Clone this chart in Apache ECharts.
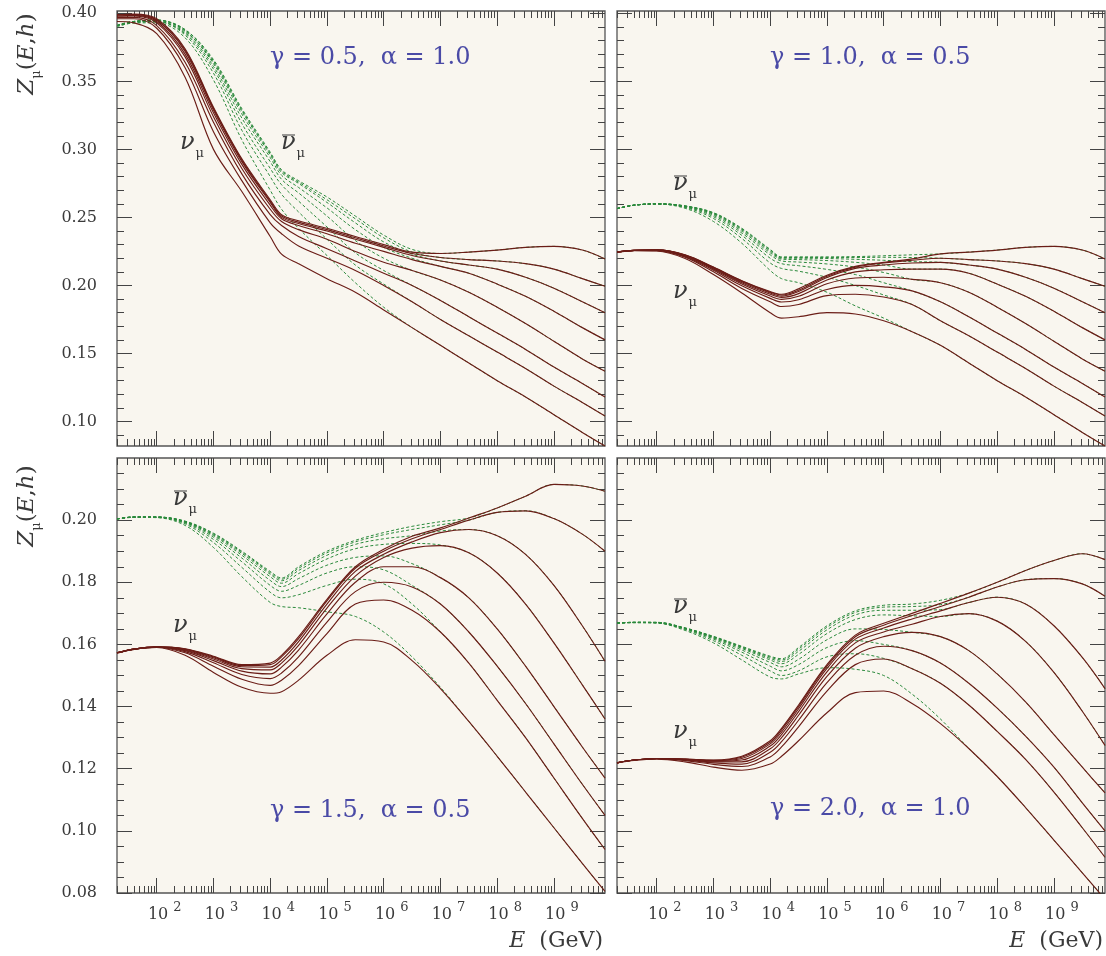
<!DOCTYPE html>
<html><head><meta charset="utf-8">
<script src="https://cdn.jsdelivr.net/npm/echarts@6/dist/echarts.min.js"></script>
<style>html,body{margin:0;padding:0;background:#fff}#c{width:1106px;height:956px}</style>
</head><body><div id="c"></div>
<script>
// x = log10(E / GeV)
const logE = [1.3,1.6,2,2.5,3,3.5,4,4.2,4.5,5,5.5,6,6.5,7,7.5,8,8.5,9,9.5,9.9];
const xTickExp = [2,3,4,5,6,7,8,9];
const yTicksTop = [0.10,0.15,0.20,0.25,0.30,0.35,0.40];
const yTicksBottom = [0.08,0.10,0.12,0.14,0.16,0.18,0.20];

// Panel A: gamma=0.5, alpha=1.0  (nu_mu solid, nubar_mu dashed; nubar merges into nu beyond given points)
const nuA = [
 [0.399,0.3995,0.396,0.374,0.331,0.293,0.263,0.252,0.2475,0.242,0.236,0.230,0.2245,0.2235,0.2245,0.226,0.228,0.2287,0.226,0.2195],
 [0.399,0.399,0.395,0.373,0.330,0.292,0.262,0.251,0.2465,0.241,0.235,0.229,0.2235,0.2205,0.219,0.218,0.216,0.212,0.205,0.1994],
 [0.399,0.399,0.395,0.372,0.329,0.291,0.261,0.250,0.2455,0.240,0.234,0.228,0.222,0.218,0.215,0.212,0.206,0.198,0.188,0.180],
 [0.398,0.3985,0.394,0.370,0.327,0.289,0.259,0.249,0.244,0.238,0.231,0.225,0.219,0.214,0.209,0.201,0.192,0.181,0.169,0.160],
 [0.398,0.398,0.393,0.368,0.324,0.286,0.256,0.247,0.241,0.234,0.225,0.217,0.211,0.204,0.195,0.184,0.172,0.159,0.146,0.137],
 [0.397,0.397,0.391,0.364,0.320,0.282,0.252,0.244,0.236,0.227,0.218,0.209,0.200,0.189,0.177,0.165,0.153,0.140,0.128,0.118],
 [0.396,0.396,0.389,0.360,0.313,0.277,0.246,0.238,0.229,0.220,0.211,0.200,0.188,0.175,0.163,0.151,0.139,0.126,0.114,0.104],
 [0.394,0.393,0.385,0.353,0.300,0.269,0.236,0.223,0.216,0.205,0.195,0.182,0.169,0.156,0.143,0.130,0.118,0.105,0.092,0.082]
];
const nubarA = [
 [0.391,0.394,0.395,0.388,0.366,0.330,0.298,0.285,0.277,0.265,0.251,0.237,0.2265],
 [0.391,0.394,0.395,0.388,0.365,0.329,0.297,0.284,0.276,0.263,0.249,0.235,0.2245],
 [0.391,0.394,0.395,0.387,0.364,0.328,0.296,0.283,0.275,0.261,0.246,0.232,0.223],
 [0.391,0.394,0.395,0.387,0.363,0.326,0.294,0.281,0.272,0.257,0.241,0.228,0.220],
 [0.391,0.394,0.394,0.386,0.361,0.323,0.291,0.278,0.268,0.251,0.233,0.220,0.211],
 [0.391,0.394,0.394,0.385,0.359,0.319,0.286,0.274,0.262,0.243,0.224,0.211,0.200],
 [0.391,0.393,0.394,0.384,0.356,0.314,0.280,0.267,0.254,0.234,0.215,0.201,0.188],
 [0.390,0.393,0.393,0.382,0.351,0.307,0.270,0.256,0.242,0.222,0.202,0.184,0.169]
];

// Panel B: gamma=1.0, alpha=0.5
const nuB = [
 [0.2247,0.2258,0.2262,0.2225,0.2135,0.2035,0.1955,0.1935,0.1975,0.2075,0.2140,0.2170,0.2195,0.2232,0.2245,0.226,0.228,0.2287,0.226,0.2195],
 [0.2247,0.2258,0.2262,0.2224,0.2133,0.2032,0.1950,0.1930,0.1965,0.2068,0.2135,0.2165,0.2185,0.2200,0.219,0.218,0.216,0.212,0.205,0.1994],
 [0.2246,0.2258,0.2261,0.2222,0.2130,0.2027,0.1944,0.1922,0.1955,0.2058,0.2125,0.2150,0.2165,0.2170,0.215,0.212,0.206,0.198,0.188,0.180],
 [0.2246,0.2258,0.2260,0.2220,0.2126,0.2020,0.1935,0.1912,0.1940,0.2040,0.2100,0.2115,0.2120,0.2120,0.209,0.201,0.192,0.181,0.169,0.160],
 [0.2245,0.2258,0.2259,0.2217,0.2120,0.2010,0.1922,0.1898,0.1920,0.2012,0.2055,0.2060,0.2045,0.2020,0.195,0.184,0.172,0.159,0.146,0.137],
 [0.2245,0.2257,0.2258,0.2213,0.2112,0.1997,0.1905,0.1878,0.1895,0.1970,0.2000,0.1990,0.1960,0.1880,0.177,0.165,0.153,0.140,0.128,0.118],
 [0.2244,0.2257,0.2256,0.2208,0.2100,0.1978,0.1880,0.1845,0.1860,0.1925,0.1935,0.1915,0.1860,0.1740,0.163,0.151,0.139,0.126,0.114,0.104],
 [0.2243,0.2256,0.2253,0.2198,0.2080,0.1945,0.1800,0.1760,0.1770,0.1800,0.1790,0.1740,0.1660,0.1560,0.143,0.130,0.118,0.105,0.092,0.082]
];
const nubarB = [
 [0.2565,0.2590,0.2600,0.2585,0.2535,0.2420,0.2265,0.2210,0.2210,0.2210,0.2212,0.2218,0.2225],
 [0.2565,0.2590,0.2600,0.2584,0.2532,0.2415,0.2260,0.2205,0.2205,0.2205,0.2205,0.2207,0.2205],
 [0.2565,0.2590,0.2600,0.2583,0.2528,0.2408,0.2252,0.2200,0.2200,0.2198,0.2192,0.2185,0.2175],
 [0.2565,0.2590,0.2600,0.2582,0.2523,0.2398,0.2240,0.2193,0.2190,0.2183,0.2170,0.2150,0.2120],
 [0.2565,0.2590,0.2599,0.2580,0.2515,0.2385,0.2225,0.2180,0.2172,0.2158,0.2135,0.2095,0.2045],
 [0.2565,0.2590,0.2599,0.2577,0.2505,0.2368,0.2200,0.2160,0.2145,0.2118,0.2080,0.2020,0.1960],
 [0.2565,0.2589,0.2599,0.2573,0.2492,0.2345,0.2165,0.2125,0.2105,0.2060,0.2000,0.1930,0.1860],
 [0.2564,0.2589,0.2598,0.2567,0.2470,0.2310,0.2110,0.2050,0.2020,0.1950,0.1850,0.1760,0.1660]
];

// Panel C: gamma=1.5, alpha=0.5
const nuC = [
 [0.1573,0.1585,0.1592,0.1586,0.1562,0.1535,0.1540,0.1565,0.1625,0.1745,0.1850,0.1906,0.1948,0.1975,0.2007,0.2039,0.2077,0.2115,0.2110,0.2093],
 [0.1573,0.1585,0.1592,0.1585,0.1560,0.1532,0.1535,0.1560,0.1619,0.1740,0.1845,0.1900,0.1940,0.1970,0.2000,0.2025,0.2030,0.2005,0.1955,0.1900],
 [0.1573,0.1585,0.1592,0.1584,0.1557,0.1528,0.1527,0.1550,0.1609,0.1730,0.1835,0.1890,0.1930,0.1960,0.1970,0.1950,0.1890,0.1790,0.1660,0.1546],
 [0.1573,0.1585,0.1592,0.1582,0.1553,0.1522,0.1518,0.1540,0.1597,0.1717,0.1820,0.1880,0.1910,0.1918,0.1895,0.1830,0.1730,0.1605,0.1470,0.1360],
 [0.1573,0.1585,0.1591,0.1580,0.1548,0.1514,0.1505,0.1527,0.1582,0.1698,0.1800,0.1850,0.1850,0.1815,0.1750,0.1650,0.1530,0.1400,0.1270,0.1170],
 [0.1573,0.1585,0.1591,0.1577,0.1541,0.1503,0.1490,0.1508,0.1560,0.1672,0.1770,0.1800,0.1785,0.1730,0.1640,0.1530,0.1410,0.1280,0.1150,0.1050],
 [0.1573,0.1584,0.1591,0.1573,0.1530,0.1488,0.1468,0.1485,0.1532,0.1635,0.1730,0.1743,0.1710,0.1640,0.1540,0.1420,0.1300,0.1170,0.1040,0.0940],
 [0.1572,0.1584,0.1590,0.1565,0.1510,0.1462,0.1443,0.1448,0.1485,0.1565,0.1615,0.1608,0.1548,0.1458,0.1352,0.1240,0.1125,0.1010,0.0895,0.0805]
];
const nubarC = [
 [0.2004,0.2010,0.2010,0.1997,0.1958,0.1900,0.1835,0.1814,0.1850,0.1900,0.1935,0.1960,0.1980,0.1995],
 [0.2004,0.2010,0.2010,0.1996,0.1956,0.1897,0.1831,0.1810,0.1845,0.1895,0.1930,0.1953,0.1970,0.1985],
 [0.2004,0.2010,0.2010,0.1995,0.1953,0.1893,0.1826,0.1805,0.1838,0.1887,0.1922,0.1940,0.1950,0.1965],
 [0.2004,0.2010,0.2010,0.1994,0.1950,0.1887,0.1818,0.1797,0.1828,0.1875,0.1908,0.1922,0.1925,0.1920],
 [0.2004,0.2010,0.2010,0.1993,0.1945,0.1878,0.1806,0.1786,0.1812,0.1855,0.1880,0.1885,0.1860],
 [0.2004,0.2010,0.2009,0.1991,0.1938,0.1866,0.1790,0.1771,0.1790,0.1830,0.1850,0.1840,0.1790],
 [0.2004,0.2010,0.2009,0.1988,0.1928,0.1848,0.1768,0.1750,0.1760,0.1790,0.1810,0.1795,0.1730],
 [0.2003,0.2009,0.2008,0.1983,0.1912,0.1818,0.1735,0.1722,0.1718,0.1705,0.1690,0.1640,0.1560,0.1462]
];

// Panel D: gamma=2.0, alpha=1.0
const nuD = [
 [0.1219,0.1228,0.1233,0.1231,0.1228,0.1240,0.1290,0.1330,0.1405,0.1535,0.1630,0.1668,0.1700,0.1732,0.1765,0.1800,0.1838,0.1870,0.1892,0.1873],
 [0.1219,0.1228,0.1233,0.1231,0.1227,0.1237,0.1285,0.1325,0.1400,0.1530,0.1625,0.1662,0.1693,0.1722,0.1752,0.1785,0.1808,0.1812,0.1795,0.1755],
 [0.1219,0.1228,0.1233,0.1230,0.1226,0.1233,0.1280,0.1318,0.1393,0.1523,0.1617,0.1653,0.1682,0.1708,0.1735,0.1752,0.1730,0.1660,0.1558,0.1458],
 [0.1219,0.1228,0.1233,0.1230,0.1224,0.1228,0.1273,0.1310,0.1384,0.1512,0.1605,0.1640,0.1665,0.1690,0.1699,0.1675,0.1610,0.1510,0.1385,0.1275],
 [0.1219,0.1228,0.1233,0.1229,0.1222,0.1222,0.1264,0.1300,0.1372,0.1497,0.1588,0.1625,0.1639,0.1625,0.1580,0.1505,0.1415,0.1310,0.1205,0.1122],
 [0.1219,0.1228,0.1233,0.1228,0.1219,0.1215,0.1253,0.1287,0.1356,0.1477,0.1565,0.1594,0.1580,0.1540,0.1475,0.1395,0.1305,0.1205,0.1090,0.1000],
 [0.1219,0.1228,0.1232,0.1226,0.1214,0.1207,0.1238,0.1270,0.1335,0.1450,0.1535,0.1553,0.1522,0.1475,0.1405,0.1320,0.1230,0.1125,0.1010,0.0915],
 [0.1219,0.1227,0.1231,0.1222,0.1205,0.1195,0.1215,0.1240,0.1290,0.1380,0.1445,0.1450,0.1410,0.1345,0.1265,0.1175,0.1075,0.0970,0.0865,0.0780]
];
const nubarD = [
 [0.1669,0.1671,0.1671,0.1653,0.1626,0.1594,0.1562,0.1554,0.1590,0.1660,0.1708,0.1726,0.1730,0.1742],
 [0.1669,0.1671,0.1671,0.1653,0.1625,0.1592,0.1559,0.1550,0.1585,0.1655,0.1703,0.1720,0.1722,0.1728],
 [0.1669,0.1671,0.1671,0.1652,0.1624,0.1590,0.1555,0.1545,0.1578,0.1647,0.1695,0.1710,0.1710,0.1712],
 [0.1669,0.1671,0.1670,0.1652,0.1622,0.1587,0.1550,0.1538,0.1568,0.1635,0.1680,0.1695,0.1692,0.1690],
 [0.1669,0.1671,0.1670,0.1651,0.1620,0.1582,0.1542,0.1528,0.1552,0.1615,0.1650,0.1648,0.1639],
 [0.1669,0.1671,0.1670,0.1650,0.1617,0.1575,0.1530,0.1515,0.1535,0.1590,0.1612,0.1600,0.1580],
 [0.1669,0.1670,0.1669,0.1648,0.1612,0.1565,0.1515,0.1500,0.1515,0.1560,0.1570,0.1555,0.1522],
 [0.1668,0.1670,0.1669,0.1645,0.1605,0.1550,0.1495,0.1489,0.1505,0.1525,0.1520,0.1500,0.1440,0.1360]
];

const panelLabels = ['γ = 0.5,  α = 1.0','γ = 1.0,  α = 0.5','γ = 1.5,  α = 0.5','γ = 2.0,  α = 1.0'];

// ---------- layout / style ----------
const X_MIN = 1.3, X_MAX = 9.9;
const SERIF = '"DejaVu Serif", "Liberation Serif", serif';
const TXT = '#3a3a3a';
const RED = '#6b1d17', GREEN = '#2b8a3c', BLUE = '#4a4aa6';
const grids = [
  {left:117, top:11, width:488, height:435},
  {left:617, top:11, width:488, height:435},
  {left:117, top:458, width:488, height:435},
  {left:617, top:458, width:488, height:435}
];
const yRanges = [[0.082,0.4017],[0.082,0.4017],[0.08,0.22],[0.08,0.22]];

const xMinorTicks = [];
for (let n = 1; n <= 9; n++) for (let k = 2; k <= 9; k++) {
  const v = n + Math.log10(k);
  if (v > X_MIN && v < X_MAX) xMinorTicks.push(v);
}
function yMinor(lo, hi, step, majors) {
  const out = [];
  for (let v = lo; v <= hi + 1e-9; v += step) {
    const r = Math.round(v * 1000) / 1000;
    if (!majors.some(m => Math.abs(m - r) < 1e-6)) out.push(r);
  }
  return out;
}
const yMinorTop = yMinor(0.09, 0.39, 0.01, yTicksTop);
const yMinorBottom = yMinor(0.085, 0.215, 0.005, yTicksBottom);

const tickLine = {color:'#444', width:1};
const xAxis = [], yAxis = [], series = [];
const axisIdx = [];
grids.forEach((g, gi) => {
  const bottomRow = gi >= 2, leftCol = gi % 2 === 0;
  const xb = {type:'value', gridIndex:gi, min:X_MIN, max:X_MAX, splitLine:{show:false},
              axisLine:{show:false, onZero:false}};
  const xi = xAxis.length;
  xAxis.push(Object.assign({}, xb, {position:'bottom',
    axisTick:{show:true, inside:true, length:15, customValues:xTickExp, lineStyle:tickLine},
    axisLabel:{show:bottomRow, customValues:xTickExp, margin:12, padding:[0,0,0,16],
      formatter: v => '{b|10}{s|' + Math.round(v) + '}',
      rich:{b:{fontFamily:SERIF, fontSize:16, color:TXT, lineHeight:18, verticalAlign:'bottom'},
            s:{fontFamily:SERIF, fontSize:13, color:TXT, lineHeight:13, verticalAlign:'bottom', padding:[0,0,9,5]}}}}));
  xAxis.push(Object.assign({}, xb, {position:'bottom',
    axisTick:{show:true, inside:true, length:7, customValues:xMinorTicks, lineStyle:tickLine}, axisLabel:{show:false}}));
  xAxis.push(Object.assign({}, xb, {position:'top',
    axisTick:{show:true, inside:true, length:15, customValues:xTickExp, lineStyle:tickLine}, axisLabel:{show:false}}));
  xAxis.push(Object.assign({}, xb, {position:'top',
    axisTick:{show:true, inside:true, length:7, customValues:xMinorTicks, lineStyle:tickLine}, axisLabel:{show:false}}));

  const majors = bottomRow ? yTicksBottom : yTicksTop;
  const minors = bottomRow ? yMinorBottom : yMinorTop;
  const yb = {type:'value', gridIndex:gi, min:yRanges[gi][0], max:yRanges[gi][1], splitLine:{show:false},
              axisLine:{show:false, onZero:false}};
  const yi = yAxis.length;
  yAxis.push(Object.assign({}, yb, {position:'left',
    axisTick:{show:true, inside:true, length:15, customValues:majors, lineStyle:tickLine},
    axisLabel:{show:leftCol, customValues:majors, margin:20, formatter: v => v.toFixed(2),
      fontFamily:SERIF, fontSize:16, color:TXT}}));
  yAxis.push(Object.assign({}, yb, {position:'left',
    axisTick:{show:true, inside:true, length:7, customValues:minors, lineStyle:tickLine}, axisLabel:{show:false}}));
  yAxis.push(Object.assign({}, yb, {position:'right',
    axisTick:{show:true, inside:true, length:15, customValues:majors, lineStyle:tickLine}, axisLabel:{show:false}}));
  yAxis.push(Object.assign({}, yb, {position:'right',
    axisTick:{show:true, inside:true, length:7, customValues:minors, lineStyle:tickLine}, axisLabel:{show:false}}));
  axisIdx.push([xi, yi]);
});

const panelData = [[nuA, nubarA],[nuB, nubarB],[nuC, nubarC],[nuD, nubarD]];
panelData.forEach(([nu, nubar], gi) => {
  const [xi, yi] = axisIdx[gi];
  nubar.forEach((row, k) => {
    const full = row.concat(nu[k].slice(row.length));
    series.push({type:'line', xAxisIndex:xi, yAxisIndex:yi, symbol:'none', smooth:0.35,
      data: logE.map((x, i) => [x, full[i]]), z:2, silent:true,
      lineStyle:{color:GREEN, width:1, type:[3,2.2]}});
  });
  nu.forEach(row => {
    series.push({type:'line', xAxisIndex:xi, yAxisIndex:yi, symbol:'none', smooth:0.35,
      data: logE.map((x, i) => [x, row[i]]), z:3, silent:true,
      lineStyle:{color:RED, width:1.15}});
  });
});

// ---------- annotations ----------
const graphic = [];
const labelPos = [[270,58],[770,58],[270,811],[770,809]];
panelLabels.forEach((t, i) => graphic.push({type:'text', x:labelPos[i][0], y:labelPos[i][1],
  style:{text:t, fontFamily:SERIF, fontSize:24, fill:BLUE, align:'left', verticalAlign:'middle'}}));

function nuLabel(x, y, bar) {
  const items = [{type:'text', x:x, y:y, style:{text:'{n|ν}{m|μ}', align:'left', verticalAlign:'bottom',
    rich:{n:{fontFamily:SERIF, fontStyle:'italic', fontSize:24, fill:TXT, lineHeight:24, verticalAlign:'bottom', padding:[0,0,5,0]},
          m:{fontFamily:SERIF, fontSize:13, fill:TXT, lineHeight:13, verticalAlign:'bottom', padding:[0,0,0,1]}}}}];
  if (bar) items.push({type:'line', shape:{x1:x+1, y1:y-25, x2:x+14, y2:y-25}, style:{stroke:TXT, lineWidth:1}});
  return items;
}
[[180,160,false],[281,160,true],[673,201,true],[673,309,false],[173,516,true],[173,643,false],[673,624,true],[673,749,false]]
  .forEach(p => nuLabel(p[0], p[1], p[2]).forEach(e => graphic.push(e)));

const zName = '{i|Z}{m|μ}{r|(}{i|E}{r|,}{i|h}{r|)}';
const zRich = {i:{fontFamily:SERIF, fontStyle:'italic', fontSize:23, fill:TXT, lineHeight:26, verticalAlign:'bottom', padding:[0,0,4,0]},
               r:{fontFamily:SERIF, fontSize:23, fill:TXT, lineHeight:26, verticalAlign:'bottom', padding:[0,0,4,0]},
               m:{fontFamily:SERIF, fontSize:13, fill:TXT, lineHeight:13, verticalAlign:'bottom'}};
[[30,54],[30,506]].forEach(p => graphic.push({type:'text', x:p[0], y:p[1], rotation:Math.PI/2,
  style:{text:zName, rich:zRich, align:'center', verticalAlign:'middle'}}));

const eName = '{i|E}{r|  (GeV)}';
const eRich = {i:{fontFamily:SERIF, fontStyle:'italic', fontSize:22, fill:TXT}, r:{fontFamily:SERIF, fontSize:22, fill:TXT}};
[[603,941],[1103,941]].forEach(p => graphic.push({type:'text', x:p[0], y:p[1],
  style:{text:eName, rich:eRich, align:'right', verticalAlign:'middle'}}));

const chart = echarts.init(document.getElementById('c'), null, {renderer:'canvas'});
chart.setOption({
  animation:false, backgroundColor:'#ffffff',
  grid: grids.map(g => Object.assign({show:true, backgroundColor:'#f9f6ef', borderColor:'#555', borderWidth:1.3, containLabel:false}, g)),
  xAxis, yAxis, series, graphic
});
</script></body></html>
